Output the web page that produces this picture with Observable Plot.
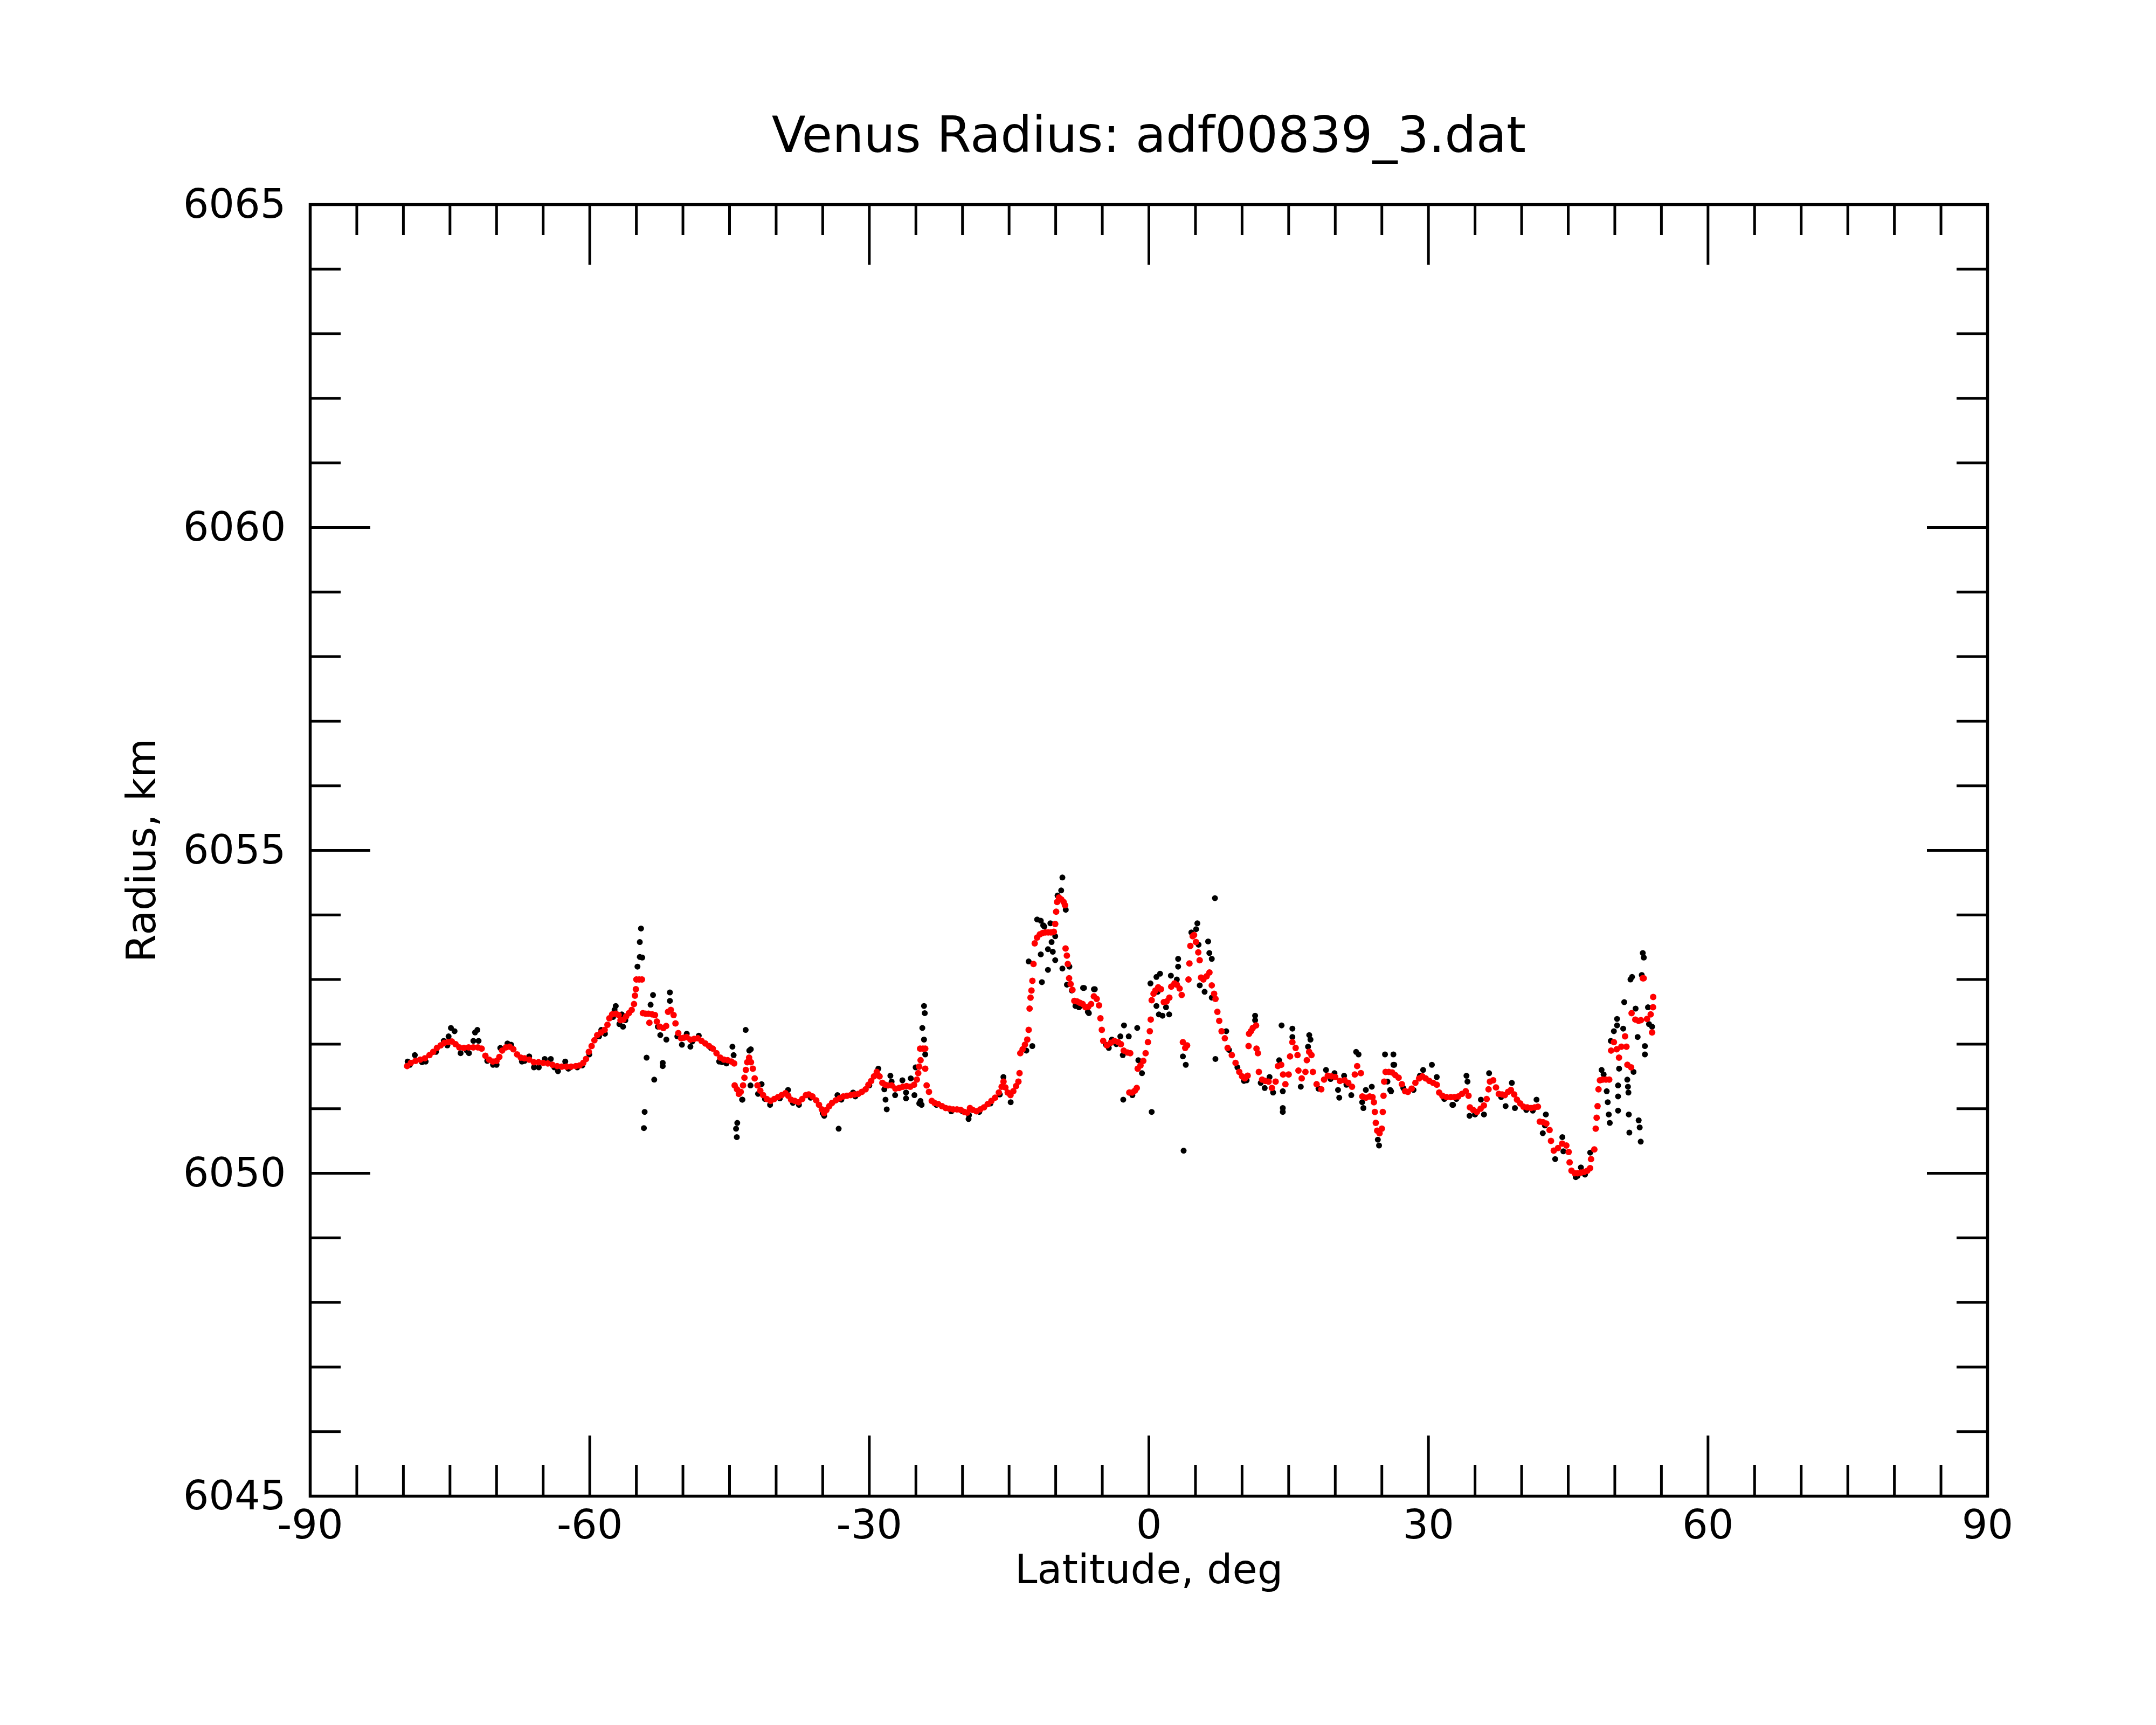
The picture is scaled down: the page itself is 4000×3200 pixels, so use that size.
<!DOCTYPE html>
<html>
<head>
<meta charset="utf-8">
<script src="https://cdn.jsdelivr.net/npm/d3@7"></script>
<script src="https://cdn.jsdelivr.net/npm/@observablehq/plot@0.6"></script>
<style>
  html, body { margin: 0; padding: 0; background: #fff; }
  #chart svg { display: block; background: #fff; }
</style>
</head>
<body>
<div id="chart"></div>
<script>
// ---- Data (latitude in degrees, radius in km) ----
const redPoints = [
  [-79.6,6051.66],[-79.2,6051.71],[-78.7,6051.74],[-78.2,6051.76],[-77.7,6051.78],[-77.2,6051.83],
  [-76.8,6051.88],[-76.4,6051.94],[-76.0,6051.98],[-75.6,6052.02],[-75.2,6052.03],[-74.8,6052.04],
  [-74.4,6052.00],[-74.0,6051.95],[-73.5,6051.94],[-73.0,6051.95],[-72.5,6051.95],[-72.0,6051.95],
  [-71.6,6051.93],[-71.2,6051.82],[-70.8,6051.76],[-70.4,6051.73],[-70.0,6051.74],[-69.7,6051.80],
  [-69.4,6051.90],[-69.0,6051.95],[-68.6,6051.96],[-68.2,6051.92],[-67.8,6051.84],[-67.4,6051.79],
  [-67.0,6051.78],[-66.5,6051.76],[-66.0,6051.72],[-65.5,6051.72],[-65.0,6051.71],[-64.5,6051.70],
  [-64.0,6051.68],[-63.5,6051.66],[-63.0,6051.65],[-62.5,6051.65],[-62.0,6051.65],[-61.5,6051.66],
  [-61.1,6051.67],[-60.7,6051.71],[-60.4,6051.77],[-60.1,6051.88],[-59.8,6051.97],[-59.5,6052.06],
  [-59.2,6052.14],[-58.8,6052.18],[-58.4,6052.22],[-58.1,6052.30],[-57.9,6052.40],[-57.6,6052.46],
  [-57.2,6052.47],[-56.9,6052.45],[-56.7,6052.37],[-56.4,6052.38],[-56.1,6052.43],[-55.8,6052.48],
  [-55.5,6052.53],[-55.25,6052.62],[-55.15,6052.75],[-55.05,6052.85],[-55.0,6053.00],[-54.7,6053.00],
  [-54.4,6053.00],[-54.3,6052.48],[-54.0,6052.47],[-53.7,6052.47],[-53.6,6052.33],[-53.3,6052.46],
  [-53.0,6052.45],[-52.8,6052.35],[-52.5,6052.27],[-52.1,6052.25],[-51.8,6052.28],[-51.6,6052.50],
  [-51.3,6052.53],[-51.0,6052.45],[-50.8,6052.32],[-50.5,6052.17],[-50.2,6052.09],[-49.9,6052.10],
  [-49.6,6052.11],[-49.2,6052.07],[-48.8,6052.08],[-48.4,6052.09],[-48.0,6052.05],[-47.6,6052.01],
  [-47.2,6051.97],[-46.8,6051.93],[-46.4,6051.86],[-46.0,6051.79],[-45.6,6051.76],[-45.2,6051.75],
  [-44.8,6051.73],[-44.5,6051.70],[-44.45,6051.36],[-44.2,6051.30],[-44.0,6051.23],[-43.8,6051.26],
  [-43.55,6051.36],[-43.4,6051.48],[-43.25,6051.60],[-43.1,6051.72],[-42.9,6051.79],[-42.7,6051.72],
  [-42.5,6051.62],[-42.3,6051.47],[-42.0,6051.36],[-41.7,6051.28],[-41.4,6051.21],[-41.0,6051.15],
  [-40.6,6051.12],[-40.2,6051.15],[-39.8,6051.18],[-39.4,6051.21],[-39.0,6051.24],[-38.7,6051.20],
  [-38.4,6051.14],[-38.0,6051.12],[-37.6,6051.10],[-37.2,6051.15],[-36.8,6051.21],[-36.5,6051.22],
  [-36.1,6051.19],[-35.7,6051.13],[-35.4,6051.06],[-35.1,6050.99],[-34.85,6050.93],[-34.6,6050.98],
  [-34.3,6051.04],[-34.0,6051.09],[-33.6,6051.13],[-33.2,6051.16],[-32.8,6051.19],[-32.4,6051.20],
  [-32.0,6051.21],[-31.6,6051.22],[-31.2,6051.23],[-30.8,6051.26],[-30.4,6051.30],[-30.1,6051.37],
  [-29.8,6051.43],[-29.5,6051.50],[-29.2,6051.57],[-28.9,6051.50],[-28.6,6051.40],[-28.3,6051.37],
  [-28.0,6051.36],[-27.6,6051.36],[-27.2,6051.31],[-26.8,6051.32],[-26.4,6051.34],[-26.0,6051.35],
  [-25.6,6051.34],[-25.2,6051.37],[-24.9,6051.45],[-24.75,6051.55],[-24.65,6051.65],[-24.55,6051.93],
  [-24.5,6051.75],[-24.25,6051.93],[-24.0,6051.93],[-24.0,6051.62],[-23.85,6051.36],[-23.6,6051.26],
  [-23.3,6051.12],[-23.0,6051.09],[-22.6,6051.07],[-22.2,6051.04],[-21.8,6051.01],[-21.4,6051.00],
  [-21.0,6050.99],[-20.6,6050.99],[-20.2,6050.98],[-19.8,6050.95],[-19.5,6050.94],[-19.2,6051.01],
  [-18.9,6050.98],[-18.5,6050.96],[-18.1,6050.99],[-17.7,6051.02],[-17.3,6051.07],[-16.9,6051.12],
  [-16.5,6051.17],[-16.1,6051.25],[-15.8,6051.34],[-15.6,6051.42],[-15.4,6051.33],[-15.15,6051.25],
  [-14.85,6051.21],[-14.55,6051.27],[-14.25,6051.35],[-14.0,6051.42],[-13.88,6051.55],[-13.8,6051.86],
  [-13.55,6051.92],[-13.3,6051.99],[-13.05,6052.07],[-12.9,6052.22],[-12.8,6052.55],[-12.7,6052.72],
  [-12.6,6052.83],[-12.5,6052.98],[-12.38,6053.24],[-12.25,6053.56],[-12.0,6053.65],[-11.7,6053.70],
  [-11.4,6053.72],[-11.1,6053.73],[-10.8,6053.73],[-10.5,6053.73],[-10.2,6053.74],[-10.05,6053.86],
  [-9.95,6054.05],[-9.85,6054.20],[-9.65,6054.27],[-9.4,6054.24],[-9.15,6054.20],[-9.0,6054.15],
  [-8.94,6053.48],[-8.8,6053.37],[-8.7,6053.24],[-8.56,6053.02],[-8.4,6052.93],[-8.2,6052.84],
  [-8.0,6052.67],[-7.7,6052.66],[-7.4,6052.64],[-7.1,6052.62],[-6.8,6052.57],[-6.5,6052.58],
  [-6.2,6052.62],[-5.9,6052.74],[-5.6,6052.70],[-5.35,6052.60],[-5.2,6052.40],[-5.05,6052.22],
  [-4.9,6052.05],[-4.5,6051.98],[-4.1,6052.02],[-3.7,6052.05],[-3.3,6052.03],[-3.0,6052.00],
  [-2.7,6051.90],[-2.3,6051.87],[-2.0,6051.86],[-2.1,6051.25],[-1.8,6051.25],[-1.5,6051.28],
  [-1.3,6051.32],[-1.2,6051.62],[-0.9,6051.67],[-0.6,6051.74],[-0.35,6051.86],[-0.1,6052.03],
  [0.1,6052.20],[0.2,6052.38],[0.3,6052.68],[0.5,6052.78],[0.7,6052.83],[1.0,6052.88],
  [1.3,6052.85],[1.6,6052.65],[1.9,6052.66],[2.2,6052.72],[2.4,6052.89],[2.75,6052.94],
  [3.0,6052.92],[3.3,6052.86],[3.52,6052.76],[3.65,6052.03],[3.9,6051.94],[4.1,6051.98],
  [4.25,6053.00],[4.35,6053.25],[4.45,6053.52],[4.7,6053.67],[4.85,6053.69],[5.05,6053.58],
  [5.3,6053.42],[5.45,6053.30],[5.6,6053.03],[5.85,6053.00],[6.2,6053.05],[6.5,6053.11],
  [6.75,6052.91],[7.0,6052.78],[7.15,6052.70],[7.35,6052.50],[7.55,6052.36],[7.8,6052.20],
  [8.15,6052.09],[8.45,6051.94],[8.9,6051.83],[9.3,6051.71],[9.7,6051.57],[10.0,6051.50],
  [10.3,6051.47],[10.6,6051.51],[10.7,6051.97],[10.75,6052.16],[10.95,6052.20],[11.15,6052.25],
  [11.5,6052.29],[11.55,6051.93],[11.7,6051.86],[11.8,6051.57],[12.15,6051.45],[12.5,6051.43],
  [12.85,6051.42],[13.2,6051.32],[13.6,6051.42],[13.85,6051.66],[14.2,6051.68],[14.4,6051.53],
  [14.65,6051.38],[15.0,6051.53],[15.15,6051.81],[15.4,6052.03],[15.75,6051.94],[15.95,6051.83],
  [16.05,6051.59],[16.4,6051.47],[16.8,6051.57],[16.95,6051.75],[17.2,6051.88],[17.45,6051.83],
  [17.6,6051.57],[18.0,6051.38],[18.5,6051.30],[18.8,6051.45],[19.2,6051.51],[19.6,6051.50],
  [20.0,6051.49],[20.5,6051.43],[21.0,6051.44],[21.4,6051.40],[21.8,6051.34],[22.1,6051.53],
  [22.35,6051.66],[22.75,6051.55],[22.9,6051.19],[23.3,6051.17],[23.7,6051.19],[24.0,6051.18],
  [24.15,6051.10],[24.25,6050.95],[24.35,6050.78],[24.5,6050.66],[24.75,6050.62],[25.0,6050.69],
  [25.1,6050.95],[25.18,6051.20],[25.25,6051.42],[25.4,6051.57],[25.75,6051.57],[26.1,6051.56],
  [26.45,6051.52],[26.8,6051.48],[27.15,6051.38],[27.5,6051.27],[27.8,6051.26],[28.2,6051.31],
  [28.6,6051.40],[29.0,6051.47],[29.35,6051.50],[29.7,6051.47],[30.1,6051.43],[30.5,6051.40],
  [30.9,6051.37],[31.15,6051.25],[31.5,6051.20],[31.95,6051.18],[32.4,6051.18],[32.8,6051.18],
  [33.2,6051.19],[33.6,6051.23],[34.0,6051.27],[34.3,6051.20],[34.45,6051.02],[34.8,6050.98],
  [35.2,6050.95],[35.6,6051.00],[35.95,6051.05],[36.25,6051.15],[36.45,6051.30],[36.6,6051.42],
  [36.95,6051.44],[37.25,6051.33],[37.55,6051.23],[37.9,6051.22],[38.2,6051.21],[38.55,6051.26],
  [38.85,6051.29],[39.2,6051.22],[39.5,6051.14],[39.85,6051.08],[40.2,6051.03],[40.6,6051.02],
  [41.0,6051.01],[41.4,6051.02],[41.75,6051.03],[41.95,6050.80],[42.3,6050.79],[42.65,6050.77],
  [43.0,6050.67],[43.15,6050.50],[43.45,6050.35],[43.9,6050.39],[44.35,6050.46],[44.8,6050.43],
  [45.05,6050.33],[45.15,6050.17],[45.35,6050.04],[45.7,6050.00],[46.0,6050.00],[46.35,6050.01],
  [46.7,6050.02],[47.05,6050.04],[47.35,6050.08],[47.45,6050.22],[47.8,6050.37],[47.95,6050.69],
  [48.05,6050.86],[48.15,6051.04],[48.25,6051.30],[48.4,6051.44],[48.7,6051.45],[49.05,6051.45],
  [49.4,6051.45],[49.6,6051.90],[49.9,6052.03],[50.2,6051.92],[50.45,6051.79],[50.7,6051.96],
  [51.1,6052.12],[51.25,6051.96],[51.35,6051.68],[51.75,6051.64],[51.8,6052.48],[52.2,6052.38],
  [52.55,6052.36],[52.8,6052.37],[53.0,6053.02],[53.1,6053.02],[53.45,6052.39],[53.85,6052.46],
  [54.0,6052.18],[54.1,6052.57],[54.12,6052.73]
];

const blackPoints = [
  [-79.54,6051.73],[-78.77,6051.83],[-77.61,6051.73],[-75.67,6052.05],[-75.28,6051.98],[-75.15,6052.12],
  [-74.9,6052.25],[-74.51,6052.20],[-73.86,6051.86],[-72.96,6051.86],[-72.49,6052.05],[-72.31,6052.18],
  [-72.06,6052.22],[-71.93,6052.05],[-70.38,6051.68],[-70.0,6051.68],[-69.6,6051.94],[-68.83,6052.01],
  [-68.44,6051.99],[-67.28,6051.73],[-66.5,6051.81],[-65.99,6051.64],[-65.47,6051.64],[-64.83,6051.77],
  [-64.18,6051.77],[-63.41,6051.58],[-62.63,6051.73],[-62.11,6051.64],[-61.34,6051.64],[-60.05,6051.84],
  [-58.76,6052.22],[-58.37,6052.16],[-57.21,6052.59],[-57.34,6052.53],[-56.82,6052.31],[-56.43,6052.27],
  [-56.56,6052.46],[-56.18,6052.37],[-54.88,6053.20],[-54.63,6053.35],[-54.5,6053.79],[-54.63,6053.58],
  [-54.37,6053.34],[-53.90,6051.79],[-54.11,6050.95],[-54.19,6050.70],[-53.47,6052.61],[-53.21,6052.76],
  [-53.08,6051.45],[-52.69,6052.27],[-52.43,6052.14],[-52.17,6051.71],[-52.17,6051.66],[-51.78,6052.07],
  [-51.4,6052.80],[-51.4,6052.67],[-50.11,6051.99],[-49.59,6052.16],[-49.2,6051.96],[-48.3,6052.13],
  [-46.11,6051.73],[-45.33,6051.70],[-44.69,6051.96],[-44.56,6051.83],[-44.17,6050.78],[-44.3,6050.69],
  [-44.22,6050.56],[-43.65,6051.14],[-43.27,6052.22],[-42.88,6051.90],[-42.75,6051.36],[-42.72,6051.92],
  [-43.62,6051.14],[-41.56,6051.38],[-41.94,6051.23],[-40.65,6051.06],[-38.72,6051.29],[-37.55,6051.06],
  [-34.84,6050.89],[-33.29,6050.69],[-33.42,6051.21],[-31.74,6051.25],[-29.03,6051.62],[-27.74,6051.51],
  [-28.39,6051.30],[-28.26,6051.14],[-28.13,6050.99],[-27.61,6051.42],[-27.23,6051.21],[-26.45,6051.44],
  [-26.06,6051.25],[-26.06,6051.16],[-25.55,6051.47],[-25.16,6051.21],[-25.03,6051.64],[-24.64,6051.08],
  [-24.51,6051.12],[-24.39,6051.06],[-24.13,6052.59],[-24.05,6052.48],[-24.31,6052.25],[-24.13,6052.07],
  [-24.0,6051.84],[-19.35,6050.84],[-15.61,6051.49],[-14.83,6051.10],[-13.15,6051.90],[-12.51,6051.97],
  [-12.9,6053.28],[-11.99,6053.93],[-11.6,6053.91],[-11.34,6053.84],[-11.6,6053.39],[-11.22,6053.82],
  [-10.83,6053.47],[-10.83,6053.15],[-10.57,6053.87],[-11.48,6052.96],[-10.31,6053.43],[-10.05,6053.30],
  [-10.44,6053.58],[-10.05,6053.67],[-9.28,6053.17],[-9.41,6054.38],[-9.28,6054.58],[-9.8,6054.30],
  [-8.92,6054.08],[-8.79,6052.92],[-8.53,6053.20],[-8.27,6052.83],[-7.88,6052.59],[-7.5,6052.57],
  [-6.96,6052.87],[-6.44,6052.48],[-5.8,6052.85],[-7.06,6052.87],[-6.55,6052.50],[-5.9,6052.85],
  [-4.61,6051.99],[-3.97,6052.07],[-3.06,6052.12],[-2.8,6051.83],[-2.67,6052.29],[-2.16,6052.12],
  [-1.25,6052.25],[-1.13,6051.75],[-0.74,6051.55],[-2.75,6051.14],[-1.77,6051.21],[0.3,6050.95],
  [0.17,6052.94],[0.81,6053.04],[1.2,6053.09],[0.94,6052.81],[0.81,6052.59],[1.07,6052.46],
  [1.46,6052.44],[1.84,6052.57],[2.18,6052.46],[2.36,6053.06],[3.0,6053.00],[3.14,6053.32],
  [3.14,6053.20],[3.65,6051.81],[3.96,6051.68],[3.73,6050.35],[4.56,6053.73],[5.2,6053.87],
  [5.07,6053.78],[5.33,6053.54],[6.36,6053.59],[6.49,6053.41],[6.75,6053.32],[5.46,6052.91],
  [5.98,6052.81],[6.75,6052.72],[7.09,6054.26],[7.14,6051.77],[8.3,6052.20],[10.49,6051.44],
  [11.4,6052.44],[11.4,6052.37],[14.24,6052.29],[14.37,6051.01],[14.37,6050.95],[14.37,6051.27],
  [13.33,6051.25],[12.43,6051.32],[12.95,6051.49],[13.98,6051.75],[15.4,6052.24],[15.4,6052.11],
  [16.3,6051.34],[17.08,6051.96],[17.21,6052.14],[17.34,6052.07],[19.01,6051.60],[19.92,6051.55],
  [20.3,6051.29],[20.43,6051.17],[20.95,6051.51],[21.72,6051.21],[22.24,6051.88],[22.5,6051.84],
  [22.89,6051.10],[23.02,6051.01],[23.28,6051.29],[23.92,6051.34],[24.57,6050.52],[24.7,6050.43],
  [25.34,6051.84],[26.24,6051.84],[26.24,6051.68],[25.6,6051.42],[25.99,6051.27],[29.08,6051.51],
  [30.37,6051.68],[30.89,6051.49],[32.57,6051.06],[26.33,6051.68],[25.89,6051.29],[29.43,6051.60],
  [32.64,6051.06],[34.08,6051.51],[34.19,6051.42],[34.41,6050.89],[35.63,6051.14],[35.96,6050.91],
  [36.51,6051.55],[38.28,6051.04],[38.95,6051.40],[39.28,6051.01],[41.6,6051.14],[42.27,6050.62],
  [42.6,6050.91],[43.6,6050.22],[44.37,6050.56],[44.48,6050.34],[45.81,6049.94],[46.36,6050.09],
  [47.36,6050.32],[48.58,6051.60],[48.8,6051.53],[49.13,6051.27],[49.24,6051.10],[49.35,6050.91],
  [49.46,6050.78],[49.57,6052.05],[49.9,6052.20],[50.24,6052.39],[50.24,6052.29],[50.35,6051.36],
  [50.35,6051.19],[50.35,6050.97],[50.46,6051.62],[50.9,6052.24],[51.01,6052.65],[51.34,6051.45],
  [51.41,6051.34],[51.46,6051.25],[51.5,6050.91],[51.56,6050.63],[51.68,6053.00],[51.85,6053.04],
  [52.01,6051.57],[52.23,6052.55],[52.45,6052.11],[52.56,6050.82],[52.67,6050.71],[52.78,6050.49],
  [52.89,6053.07],[53.0,6053.41],[53.11,6053.34],[53.23,6051.97],[53.23,6051.84],[53.56,6052.57],
  [53.67,6052.31],[54.0,6052.27],
  // points just below the smoothed band
  [-79.3,6051.68],[-78.0,6051.72],[-76.5,6051.88],[-73.2,6051.90],[-71.0,6051.74],[-67.0,6051.74],
  [-63.8,6051.64],[-62.3,6051.62],[-60.8,6051.67],[-59.0,6052.12],[-57.5,6052.42],[-50.6,6052.12],
  [-49.0,6052.04],[-47.0,6051.94],[-45.8,6051.72],[-41.2,6051.15],[-39.6,6051.16],[-38.2,6051.09],
  [-36.3,6051.17],[-35.0,6050.93],[-33.0,6051.14],[-31.5,6051.19],[-30.0,6051.36],[-22.8,6051.06],
  [-21.2,6050.96],[-20.0,6050.96],[-19.3,6050.90],[-18.2,6050.95],[-17.0,6051.08],[-16.0,6051.22],
  [-7.3,6052.60],[-4.3,6051.94],[-3.5,6052.00],[8.6,6051.91],[9.5,6051.64],[10.2,6051.43],
  [12.0,6051.40],[18.2,6051.31],[19.5,6051.46],[21.2,6051.37],[27.3,6051.32],[28.4,6051.29],
  [31.7,6051.15],[33.0,6051.15],[35.0,6050.91],[37.8,6051.18],[40.5,6050.98],[41.2,6050.97],
  [42.5,6050.74],[46.0,6049.96],[46.8,6049.98]
];

// ---- Axis ticks ----
const xMajor = [-90, -60, -30, 0, 30, 60, 90];
const xMinor = [-85,-80,-75,-70,-65,-55,-50,-45,-40,-35,-25,-20,-15,-10,-5,5,10,15,20,25,35,40,45,50,55,65,70,75,80,85];
const yMajor = [6045, 6050, 6055, 6060, 6065];
const yMinor = [6046,6047,6048,6049,6051,6052,6053,6054,6056,6057,6058,6059,6061,6062,6063,6064];

const titleText = "Venus Radius: adf00839_3.dat";
const xLabel = "Latitude, deg";
const yLabel = "Radius, km";

// ---- Layout ----
const W = 4000, H = 3200;
const mL = 575, mR = 313, mT = 379, mB = 425;
const FW = W - mL - mR, FH = H - mT - mB;
const MAJ = 112, MIN = 57, TW = 5;
const font = "DejaVu Sans";

const red = redPoints.map(([lat, r]) => ({lat, r}));
const black = blackPoints.map(([lat, r]) => ({lat, r}));

const chart = Plot.plot({
  width: W,
  height: H,
  marginLeft: mL,
  marginRight: mR,
  marginTop: mT,
  marginBottom: mB,
  style: {fontFamily: font, background: "#fff", color: "#000"},
  x: {domain: [-90, 90]},
  y: {domain: [6045, 6065]},
  marks: [
    // data
    Plot.dot(black, {x: "lat", y: "r", r: 5.5, fill: "black", stroke: "none"}),
    Plot.dot(red, {x: "lat", y: "r", r: 6, fill: "#ff0000", stroke: "none"}),
    // inward ticks: bottom / top
    Plot.tickX(xMinor, {insetTop: FH - MIN, stroke: "black", strokeWidth: TW}),
    Plot.tickX(xMajor, {insetTop: FH - MAJ, stroke: "black", strokeWidth: TW}),
    Plot.tickX(xMinor, {insetBottom: FH - MIN, stroke: "black", strokeWidth: TW}),
    Plot.tickX(xMajor, {insetBottom: FH - MAJ, stroke: "black", strokeWidth: TW}),
    // inward ticks: left / right
    Plot.tickY(yMinor, {insetRight: FW - MIN, stroke: "black", strokeWidth: TW}),
    Plot.tickY(yMajor, {insetRight: FW - MAJ, stroke: "black", strokeWidth: TW}),
    Plot.tickY(yMinor, {insetLeft: FW - MIN, stroke: "black", strokeWidth: TW}),
    Plot.tickY(yMajor, {insetLeft: FW - MAJ, stroke: "black", strokeWidth: TW}),
    // frame
    Plot.frame({stroke: "black", strokeWidth: 5.5}),
    // tick labels
    Plot.axisX(xMajor, {anchor: "bottom", tickSize: 0, tickPadding: 25, fontSize: 75,
      tickFormat: d => String(d), label: null, fill: "black"}),
    Plot.axisY(yMajor, {anchor: "left", tickSize: 0, tickPadding: 45, fontSize: 75,
      tickFormat: d => String(d), label: null, fill: "black"}),
    // title and axis labels
    Plot.text([titleText], {frameAnchor: "top", dy: -127, fontSize: 92, lineAnchor: "middle",
      textAnchor: "middle", fill: "black"}),
    Plot.text([xLabel], {frameAnchor: "bottom", dy: 137, fontSize: 75, lineAnchor: "middle",
      textAnchor: "middle", fill: "black"}),
    Plot.text([yLabel], {frameAnchor: "left", dx: -312, rotate: -90, fontSize: 75,
      lineAnchor: "middle", textAnchor: "middle", fill: "black"})
  ]
});

document.getElementById("chart").appendChild(chart);
</script>
</body>
</html>
